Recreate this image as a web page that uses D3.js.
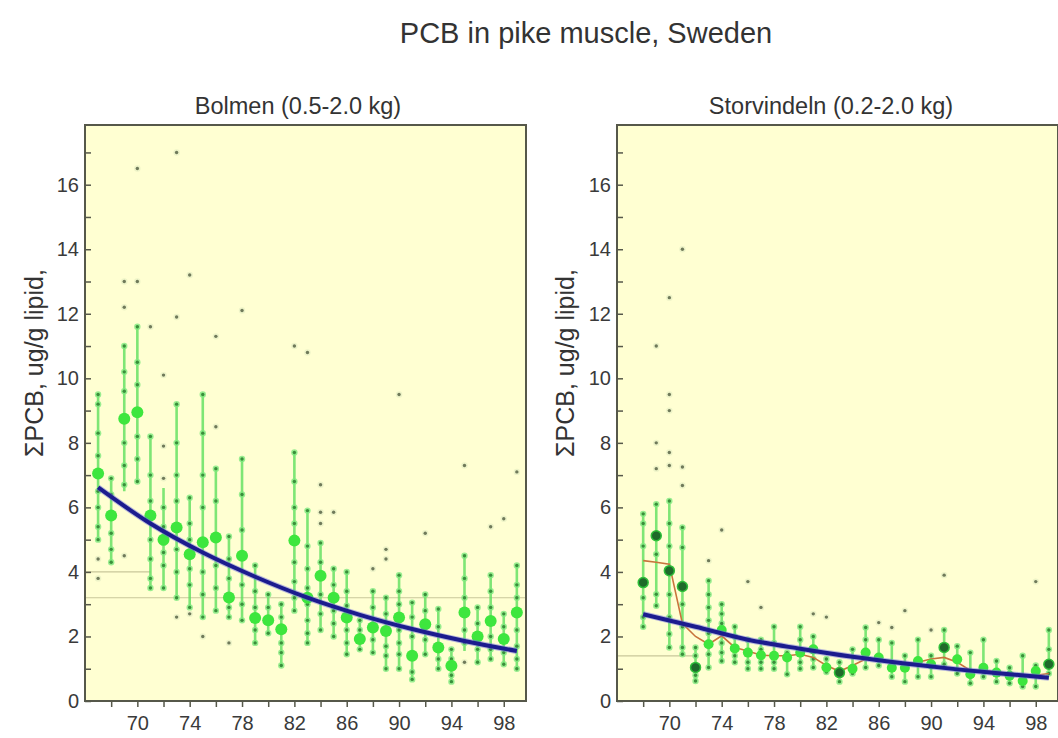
<!DOCTYPE html>
<html><head><meta charset="utf-8">
<script src="https://cdn.jsdelivr.net/npm/d3@7"></script>
<style>
html,body{margin:0;padding:0;background:#fff;}
text{font-family:"Liberation Sans",Arial,Helvetica,sans-serif;fill:#333;}
</style></head>
<body><svg id="c" width="1058" height="738"></svg>
<script>
// ---------- DATA ----------
const titleText = "PCB in pike muscle, Sweden";
const yLabel = "ΣPCB, ug/g lipid,";
const yTicks = [0,1,2,3,4,5,6,7,8,9,10,11,12,13,14,15,16,17];
const xTicks = [68,70,72,74,76,78,80,82,84,86,88,90,92,94,96,98];
const xLabelTicks = [70,74,78,82,86,90,94,98];

// Bolmen (0.5-2.0 kg)
const bolmenYears = [67,68,69,70,71,72,73,74,75,76,77,78,79,80,81,82,83,84,85,86,87,88,89,90,91,92,93,94,95,96,97,98,99];
const bolmenMean  = [7.05,5.75,8.75,8.95,5.75,5.0,5.38,4.55,4.92,5.07,3.21,4.5,2.57,2.5,2.22,4.97,3.2,3.88,3.2,2.59,1.92,2.28,2.17,2.59,1.4,2.38,1.66,1.09,2.74,2.0,2.48,1.92,2.74];
const bolmenLo    = [5.0,4.3,6.5,6.8,3.5,3.5,3.2,2.9,2.6,2.8,2.6,2.5,1.8,2.1,1.1,2.8,1.8,2.2,2.0,1.45,1.6,1.45,1.0,1.0,0.67,1.45,1.0,0.6,1.55,1.2,1.3,1.14,1.0];
const bolmenHi    = [9.5,6.9,11.0,11.6,8.2,6.6,9.2,6.3,9.5,7.2,5.1,7.5,4.2,3.3,3.0,7.7,5.9,4.9,4.1,4.0,2.5,3.4,3.2,3.9,3.05,3.3,2.85,1.6,4.55,2.9,3.9,2.7,4.2];
const bolmenPts = [
  [9.5,9.2,8.3,7.6,6.5,6.0,5.4,5.0,4.4,3.8],
  [6.9,6.4,5.8,5.2,4.7,4.3],
  [13.0,12.2,11.0,10.2,9.6,8.0,7.3,6.7,4.5],
  [16.5,13.0,11.6,10.5,9.8,8.2,7.5,6.8],
  [11.6,8.2,7.0,6.2,5.0,4.4,3.8,3.5],
  [10.1,7.9,6.9,6.0,5.4,4.9,4.6,4.2,3.5],
  [17.0,11.9,9.2,8.0,7.0,6.2,4.7,4.0,3.2,2.6],
  [13.2,6.3,5.5,5.0,4.1,3.6,2.9,2.7],
  [9.5,8.3,7.0,6.0,4.0,3.3,2.6,2.0],
  [11.3,8.5,7.2,6.2,4.2,3.5,2.8],
  [5.1,4.4,3.8,2.9,2.6,1.8],
  [12.1,7.5,6.4,5.3,3.6,3.0,2.5],
  [4.2,3.4,2.9,2.2,1.8],
  [3.3,2.9,2.1],
  [3.0,2.6,1.8,1.5,1.1],
  [11.0,7.7,6.8,6.0,5.5,4.3,3.7,3.2,2.8],
  [10.8,5.9,4.8,4.1,3.5,3.0,2.5,2.1,1.8],
  [6.7,5.85,5.5,4.9,4.3,3.3,2.7,2.2],
  [5.85,4.1,3.6,2.8,2.4,2.0],
  [4.0,3.4,2.95,2.2,1.8,1.45],
  [2.5,2.2,1.6],
  [4.1,3.4,2.9,1.9,1.5],
  [4.7,4.4,3.2,2.7,1.7,1.4,1.0],
  [9.5,3.9,3.4,3.0,2.2,1.8,1.45,1.0],
  [3.05,2.6,2.0,0.9,0.67],
  [5.2,3.3,2.8,1.9,1.45],
  [2.85,2.3,1.3,1.0],
  [1.6,1.3,0.8,0.6],
  [7.3,4.5,3.8,3.2,2.2,1.8,1.2],
  [2.9,2.4,1.6,1.2],
  [5.4,3.9,3.4,2.9,2.0,1.6,1.3],
  [5.65,2.7,2.3,1.5,1.14],
  [7.1,4.2,3.6,3.2,2.2,1.7,1.3,1.0]
];
const bolmenFitYears = [67,71,75,79,83,87,91,95,99];
const bolmenFit      = [6.62,5.5,4.6,3.85,3.2,2.67,2.23,1.86,1.55];
const bolmenRefLines = [[3.2,66,99.7],[4.0,66,71]];

// Storvindeln (0.2-2.0 kg)
const storYears = [68,69,70,71,72,73,74,75,76,77,78,79,80,81,82,83,84,85,86,87,88,89,90,91,92,93,94,95,96,97,98,99];
const storMean  = [3.67,5.12,4.04,3.55,1.04,1.76,2.2,1.63,1.5,1.42,1.4,1.35,1.5,1.6,1.04,0.88,1.0,1.5,1.35,1.03,1.03,1.24,1.14,1.66,1.29,0.83,1.03,0.88,0.78,0.62,0.93,1.14];
const storDark  = [1,1,1,1,1,0,0,0,0,0,0,0,0,0,0,1,0,0,0,0,0,0,0,1,0,0,0,0,0,0,0,1];
const storLo    = [2.3,2.95,1.66,1.45,0.62,1.04,1.24,1.2,1.0,1.0,1.0,0.83,1.0,1.04,0.9,0.6,0.85,1.04,1.1,0.75,0.6,0.75,0.75,1.14,0.85,0.55,0.75,0.6,0.55,0.45,0.45,0.85];
const storHi    = [5.8,6.1,6.2,5.38,1.66,3.73,3.0,2.3,1.9,1.9,2.3,1.5,2.3,2.0,1.3,1.2,1.6,2.28,1.9,1.8,1.4,1.9,1.4,2.2,1.7,1.5,1.9,1.24,1.03,1.4,1.1,2.2];
const storPts = [
  [5.8,5.5,4.8,3.2,2.6,2.3],
  [11.0,8.0,7.2,6.1,4.55,3.31,2.95],
  [12.5,9.5,9.0,7.7,7.3,6.2,5.5,4.8,3.3,2.6,2.08,1.66],
  [14.0,7.25,6.68,5.38,4.76,3.0,2.3,1.66,1.45],
  [1.66,1.4,0.8,0.62],
  [4.35,3.73,3.3,2.9,2.5,2.1,1.45,1.04],
  [5.3,3.0,2.7,2.4,1.8,1.5,1.24],
  [2.3,2.0,1.4,1.2],
  [3.7,1.9,1.2,1.0],
  [2.9,1.9,1.6,1.2,1.0],
  [2.3,1.8,1.2,1.0],
  [1.5,0.83],
  [2.3,1.9,1.2,1.0],
  [2.7,2.0,1.3,1.04],
  [2.6,1.3,0.9],
  [1.2,0.6],
  [1.6,0.85],
  [2.28,1.9,1.04],
  [2.43,1.9,1.1],
  [2.28,1.8,0.75],
  [2.8,1.4,0.6],
  [1.9,0.75],
  [2.2,1.4,0.75],
  [3.9,2.2,1.14],
  [1.7,0.85],
  [1.5,0.55],
  [1.9,0.75],
  [1.24,0.6],
  [1.03,0.55],
  [1.4,0.45],
  [3.7,1.1,0.45],
  [2.2,1.6,0.85]
];
const storSmooth = [4.35,4.3,4.24,2.4,2.0,1.76,2.02,1.66,1.55,1.42,1.4,1.4,1.45,1.35,1.1,0.92,1.1,1.3,1.3,1.2,1.15,1.2,1.3,1.35,1.2,0.95,0.95,0.9,0.85,0.8,0.8,0.85];
const storFitYears = [68,72,76,80,84,88,92,96,99];
const storFit      = [2.69,2.3,1.9,1.62,1.37,1.16,0.98,0.83,0.72];
const storRefLines = [[1.4,66,72]];

// ---------- DRAW ----------
const svg = d3.select("#c");
svg.append("text").attr("x",586).attr("y",43).attr("text-anchor","middle")
   .style("font-size","29px").text(titleText);

function panel(opt){
  const x0=opt.left, x1=opt.right, y0=125, y1=701;
  const x = d3.scaleLinear().domain([66,99.7]).range([x0,x1]);
  const y = d3.scaleLinear().domain([0,17.85]).range([y1,y0]);
  const g = svg.append("g");
  const cid = "clip"+opt.id;
  svg.append("defs").append("clipPath").attr("id",cid)
     .append("rect").attr("x",x0).attr("y",y0).attr("width",x1-x0).attr("height",y1-y0);
  g.append("rect").attr("x",x0).attr("y",y0).attr("width",x1-x0).attr("height",y1-y0)
     .attr("fill","#ffffd2");
  const pg = g.append("g").attr("clip-path",`url(#${cid})`);
  // reference lines
  pg.selectAll("line.ref").data(opt.refLines).join("line")
    .attr("x1",d=>x(d[1])).attr("x2",d=>x(d[2])).attr("y1",d=>y(d[0])).attr("y2",d=>y(d[0]))
    .attr("stroke","#c9c79a").attr("stroke-width",1.2);
  // vertical range lines
  pg.selectAll("line.rng").data(opt.years).join("line")
    .attr("x1",d=>x(d)).attr("x2",d=>x(d))
    .attr("y1",(d,i)=>y(opt.lo[i])).attr("y2",(d,i)=>y(opt.hi[i]))
    .attr("stroke","#5ee05e").attr("stroke-width",2.6).attr("opacity",0.8);
  // individual points
  const pts=[];
  opt.years.forEach((yr,i)=>opt.pts[i].forEach(v=>pts.push({yr,v,out:v>opt.hi[i]+0.01||v<opt.lo[i]-0.01})));
  pg.selectAll("circle.halo").data(pts).join("circle")
    .attr("cx",d=>x(d.yr)).attr("cy",d=>y(d.v)).attr("r",3.2)
    .attr("fill",d=>d.out?"#e8f0c4":"#7ee87e").attr("opacity",0.8);
  pg.selectAll("circle.pt").data(pts).join("circle")
    .attr("cx",d=>x(d.yr)).attr("cy",d=>y(d.v)).attr("r",1.7)
    .attr("fill",d=>d.out?"#6f7a5a":"#3a8f3a");
  // smoother
  if(opt.smooth){
    pg.append("path").datum(opt.years.map((yr,i)=>[yr,opt.smooth[i]]))
      .attr("d",d3.line().x(d=>x(d[0])).y(d=>y(d[1])))
      .attr("fill","none").attr("stroke","#c8743c").attr("stroke-width",1.6);
  }
  // means
  pg.selectAll("circle.mean").data(opt.years).join("circle")
    .attr("cx",d=>x(d)).attr("cy",(d,i)=>y(opt.mean[i])).attr("r",opt.meanR)
    .attr("fill",(d,i)=>opt.dark&&opt.dark[i]?"#1f6a2a":"#3ee63e")
    .attr("stroke",(d,i)=>opt.dark&&opt.dark[i]?"#2fbf3a":"none").attr("stroke-width",1.5);
  // fit
  const fitLine = d3.line().curve(d3.curveMonotoneX).x(d=>x(d[0])).y(d=>y(d[1]));
  const fitData = opt.fitYears.map((yr,i)=>[yr,opt.fit[i]]);
  pg.append("path").datum(fitData).attr("d",fitLine)
    .attr("fill","none").attr("stroke","#6f6fe0").attr("stroke-width",6).attr("opacity",0.5);
  pg.append("path").datum(fitData).attr("d",fitLine)
    .attr("fill","none").attr("stroke","#1c1c8e").attr("stroke-width",4);
  // frame
  g.append("rect").attr("x",x0).attr("y",y0).attr("width",x1-x0).attr("height",y1-y0)
     .attr("fill","none").attr("stroke","#56584a").attr("stroke-width",2);
  // y axis
  const ya = g.append("g").attr("transform",`translate(${x0},0)`)
    .call(d3.axisRight(y).tickValues(yTicks).tickSize(6).tickFormat(""));
  ya.select(".domain").remove();
  ya.selectAll("line").attr("stroke","#56584a").attr("stroke-width",1.5);
  g.selectAll("text.yl").data(yTicks.filter(v=>v%2===0)).join("text")
    .attr("x",x0-6).attr("y",d=>y(d)+7).attr("text-anchor","end")
    .style("font-size","20px").style("fill","#3a3a3a").text(d=>d);
  // x axis
  const xa = g.append("g").attr("transform",`translate(0,${y1})`)
    .call(d3.axisBottom(x).tickValues(xTicks).tickSize(6)
      .tickFormat(d=>xLabelTicks.includes(d)?d:""));
  xa.select(".domain").remove();
  xa.selectAll("line").attr("stroke","#56584a").attr("stroke-width",1.5);
  xa.selectAll("text").style("font-size","20px").style("fill","#3a3a3a").attr("dy","1.0em")
    .style("font-family","'Liberation Sans',Arial,sans-serif");
  // subtitle
  svg.append("text").attr("x",opt.subX).attr("y",114).attr("text-anchor","middle")
    .style("font-size","23.5px").text(opt.sub);
  // y label
  svg.append("text").attr("transform",`translate(${opt.ylabX},363) rotate(-90)`)
    .attr("text-anchor","middle").style("font-size","25px").text(yLabel);
}

panel({id:"b",left:85,right:526,years:bolmenYears,mean:bolmenMean,lo:bolmenLo,hi:bolmenHi,pts:bolmenPts,
  fitYears:bolmenFitYears,fit:bolmenFit,refLines:bolmenRefLines,meanR:6,
  sub:"Bolmen (0.5-2.0 kg)",subX:298,ylabX:43});
panel({id:"s",left:617,right:1058,years:storYears,mean:storMean,lo:storLo,hi:storHi,pts:storPts,dark:storDark,
  smooth:storSmooth,fitYears:storFitYears,fit:storFit,refLines:storRefLines,meanR:5,
  sub:"Storvindeln (0.2-2.0 kg)",subX:831,ylabX:574});
</script></body></html>
